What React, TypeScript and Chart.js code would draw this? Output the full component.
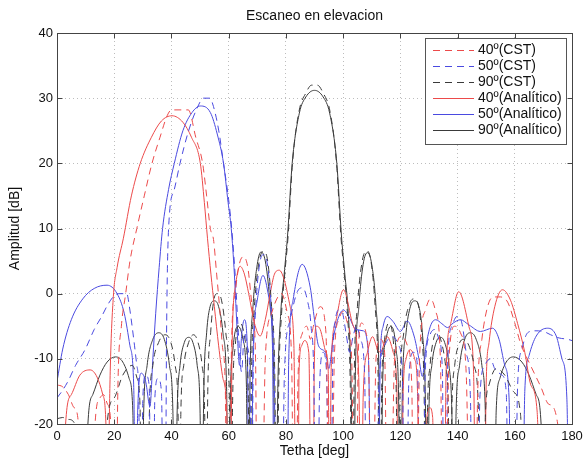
import React, { useEffect, useRef } from "react";
import Chart from "chart.js/auto";

// ---- tick / label definitions ----
const xTicks = [0, 20, 40, 60, 80, 100, 120, 140, 160, 180];
const yTicks = [-20, -10, 0, 10, 20, 30, 40];
const titleText = "Escaneo en elevacion";
const xLabel = "Tetha [deg]";
const yLabel = "Amplitud [dB]";
const legendLabels = ["40º(CST)", "50º(CST)", "90º(CST)", "40º(Analítico)", "50º(Analítico)", "90º(Analítico)"];

// ---- series: [theta deg, amplitude dB]; -40 = null below axis ----
const red40CST: [number, number][] = [
  [0, -14], [2, -14.3], [4, -15.5], [6, -17.5], [7.5, -20], [8, -40],
  [12.5, -40], [13.3, -20], [15, -16], [16.3, -15.5], [17.7, -17], [18.8, -20], [19.3, -40],
  [20.5, -40], [21.3, -14], [22.5, -5], [24, 0], [25.5, 5], [27.9, 10], [30.5, 15], [33.2, 20], [36, 24], [38.5, 27.3], [40, 28.2], [45.9, 28.2], [48.5, 24], [50.9, 20], [52.3, 15], [53.6, 10], [54.7, 8.3], [55.8, 3], [56.8, -2], [57.8, -8], [58.8, -14], [59.5, -40],
  [60.3, -40], [61, -8], [62.2, 0], [63.7, 4.5], [65.2, 5.7], [66.7, 4], [68.2, -2], [69.4, -10], [70, -40],
  [71.5, -40], [72.8, -10], [75, -3], [78.5, 0], [80.5, -3], [82, -10], [82.8, -40],
  [83.3, -40], [84.3, -12], [85.8, -6], [87.3, -5], [88.6, -7], [89.6, -5], [92, -2], [94, -6], [95.3, -40],
  [95.8, -40], [97, -9], [98.5, -4], [100, -2.7], [101.5, -4.5], [103, -10], [104, -40],
  [104.6, -40], [105.3, -9], [106.5, -4.5], [108, -6], [109, -12], [109.6, -40],
  [110.3, -40], [111.5, -10], [113, -7], [114.5, -9], [115.5, -40],
  [116.5, -40], [118, -10], [120.7, -6.5], [122.5, -8], [124, -14], [124.6, -40],
  [125.5, -40], [126.8, -9], [128.8, -2.5], [130.5, -0.8], [132.2, -2.5], [134, -10], [135, -40],
  [135.6, -40], [137, -10], [139, -5], [141, -6], [143, -12], [144.5, -40],
  [146.3, -40], [147, -16], [148.5, -7], [150.5, -2], [152.5, -0.5], [155, -0.5], [157.5, -1.3], [160, -4.5], [162, -7.6], [165.5, -11], [169, -14.2], [172, -17], [175, -20], [175.5, -40],
];

const blue50CST: [number, number][] = [
  [0, -16], [2, -14.8], [3.9, -13.4], [6.5, -11], [9.8, -8.6], [13, -5.5], [15.6, -3.5], [18, -1.5], [20.3, -0.2], [22, 0], [24.4, 0], [25.3, -2], [26.1, -4.5], [27.1, -8], [27.9, -11], [28.6, -16], [29, -40],
  [29.4, -40], [30, -16], [31, -12.5], [32.2, -14], [33, -40],
  [33.5, -40], [34.2, -16], [35.3, -13], [36.5, -15], [37.3, -40],
  [37.8, -40], [38.3, -6], [39, 10], [41, 16], [43, 20], [46, 25], [49, 28.5], [51.2, 30], [53.4, 30], [54.7, 28.7], [56.5, 25.1], [58.2, 20], [60, 14.4], [61.2, 9.3], [62.4, 2], [63.4, -6], [64.5, -12], [65.5, -6], [66.5, -8], [67.5, -14], [68, -40],
  [68.5, -14], [69.5, -2], [70.8, 4.5], [72.2, 6], [73.7, 4], [75, -3], [76, -14], [76.5, -40],
  [78.5, -40], [79.5, -12], [81.5, -4], [84, 0.3], [85.8, 0.9], [87.5, -1], [88.8, -5], [89.8, -14], [90.4, -40],
  [91, -40], [91.8, -14], [93, -9], [94.2, -12], [95, -40],
  [95.7, -40], [96.4, -10], [97.3, -4], [98.4, -2.5], [99.8, -3], [101, -6], [102.3, -9], [103.5, -6.5], [104.8, -5], [106, -7], [107.5, -12], [108.3, -40],
  [111.5, -40], [112.5, -14], [114.5, -8], [117.3, -6.6], [119.5, -8], [120.8, -14], [121.4, -40],
  [122, -40], [123, -13], [124.5, -9], [126, -11], [127, -40],
  [127.8, -40], [128.7, -12], [130.2, -6.5], [132, -5.5], [133.5, -7], [134.7, -12], [135.3, -40],
  [135.8, -40], [136.6, -10], [138, -5], [139.8, -3.5], [141.5, -4.5], [143, -9], [144.5, -16], [145.2, -40],
  [147, -40], [147.8, -16], [149.5, -11], [151.5, -10], [153, -11.5], [155.5, -12.5], [157, -15], [158, -40],
  [160, -40], [161, -14], [162.5, -8.5], [164.5, -6], [167, -5.7], [170, -5.8], [172.5, -6.3], [175.5, -6.8], [178.5, -7], [180, -7.2],
];

const black90CST: [number, number][] = [
  [0, -19.2], [2, -19], [4, -19.3], [6, -19.8], [7, -40],
  [16.5, -40], [17.5, -20], [20, -16], [23, -12.5], [26.3, -11], [28, -13], [29, -17], [29.6, -40],
  [31.5, -40], [32.3, -18], [33.5, -11], [35.5, -7.5], [37.8, -6.3], [39.8, -7.5], [41.3, -11], [42.3, -18], [42.8, -40],
  [43.3, -18], [44.3, -11], [46, -7.5], [47.7, -6.3], [49.3, -7.5], [50.7, -11], [51.6, -18], [52.1, -40],
  [52.7, -15], [53.7, -6], [54.8, -1], [56, 0], [57.5, -1], [59, -6], [60.2, -15], [60.8, -40],
  [61.4, -16], [62.3, -8], [64, -4.5], [65.7, -7], [66.8, -14], [67.4, -40],
  [68, -12], [69, -2], [70.6, 4.8], [72.2, 6.5], [73.7, 4.8], [75, -2], [76.1, -12], [76.8, -40],
  [77.5, -14], [78.5, -3], [79.6, 3], [80.8, 9], [82.3, 20], [84.6, 28], [87, 30.8], [89, 32], [91, 32], [93, 30.8], [95.4, 28], [97.7, 20], [99.2, 9], [100.4, 3], [101.5, -3], [102.5, -14], [103.2, -40],
  [103.9, -12], [105, -2], [106.6, 4.8], [108.2, 6.6], [109.8, 4.8], [111.2, -2], [112.2, -12], [112.9, -40],
  [113.5, -14], [114.5, -7], [116, -4.5], [117.7, -8], [118.6, -16], [119.2, -40],
  [119.9, -15], [121.2, -6], [123.2, -1.6], [124.7, -0.8], [126.2, -1.6], [127.4, -6], [128.3, -15], [128.9, -40],
  [129.5, -18], [130.4, -11], [131.6, -7], [132.8, -6], [134.4, -7.5], [135.8, -11], [136.8, -18], [137.3, -40],
  [138, -18], [139, -11], [140.5, -7.8], [142, -7], [144, -8], [145.8, -11], [147.3, -18], [148, -40],
  [149, -40], [149.7, -19], [151, -14], [153.5, -11.5], [156.5, -12.5], [159.5, -15], [162, -18.5], [163.5, -40],
];

const red40A: [number, number][] = [
  [2.2, -40], [3, -20], [5, -15.5], [8, -12.5], [11.6, -11.7], [14, -12.8], [16, -15.5], [17.1, -20], [17.7, -40],
  [18.1, -25], [18.6, -12], [19.7, -0.4], [21, 4], [23.2, 8.5], [26, 15], [29.1, 20], [33, 24], [36.5, 26.5], [40.2, 27.3], [44, 26.3], [47, 24], [50.1, 20], [51.5, 14], [52.6, 8.5], [53.8, 3], [55, -2], [56.5, -8], [58, -13], [59.3, -18], [60, -40],
  [60.5, -40], [61.2, -8], [62.5, 1.5], [64, 4.2], [65.5, 3], [67, 0], [69, -4.5], [71, -6.5], [72.8, -4], [74.5, 0], [76, 3], [77.7, 3.6], [79.5, 2], [81.5, -2], [82.8, -8], [83.6, -40],
  [84.2, -40], [84.6, -12], [85.5, -8], [86.5, -7.2], [88, -9], [89, -40],
  [89.5, -40], [89.9, -12], [90.6, -5], [92, -5.5], [94, -9], [94.8, -12], [95.3, -40],
  [95.8, -12], [97.3, -4.5], [100.1, 0.6], [103.2, -4.5], [105.4, -12], [106.4, -40],
  [107, -16], [108.5, -9], [110.3, -6.6], [112, -8.5], [113, -9], [115.4, -6.6], [117.5, -9], [118.8, -15], [119.4, -40],
  [120.3, -40], [121, -15], [122, -10], [123.5, -8.6], [125, -10], [126, -15], [126.6, -40],
  [128.5, -40], [129.3, -19], [130.3, -17.5], [131.3, -19], [132, -40],
  [135.3, -40], [136, -12], [137.6, -4.6], [140.4, 0.3], [144, -5.1], [145.6, -12], [146.4, -40],
  [149.3, -40], [150, -14], [151, -7.5], [153, -2], [155.7, 0.6], [158.5, -1], [161, -4.6], [163.5, -9], [165.6, -14], [167.8, -18], [169.1, -40],
];

const blue50A: [number, number][] = [
  [0, -13.5], [2, -8.5], [5, -4], [9, -0.8], [13, 0.8], [17.5, 1.3], [21, 0], [23.5, -3], [25.5, -8], [26.8, -14], [27.6, -40],
  [28.2, -18], [29.5, -12.2], [31, -13.5], [32.5, -17.3],
  [33.5, -10], [34.5, -3], [35.7, 4], [36.9, 10], [39, 16], [41, 20], [44, 25], [47.2, 27.8], [50.1, 28.8], [53.6, 27.8], [56, 24.5], [58.2, 20], [59.8, 14], [60.9, 10], [62, 3], [63, -6], [63.8, -11], [64.6, -6], [65.5, -4], [66.5, -8], [67.2, -40],
  [67.8, -40], [68.5, -10], [70, -1], [72, 2.8], [74, -0.5], [75.3, -8], [76, -40],
  [80.3, -40], [81, -10], [82.5, -1], [85.7, 4.5], [88.5, 1], [90, -4], [91.4, -8], [93.8, -9], [95, -11.5], [96.5, -7], [98.5, -3.5], [100.1, -2.5], [102, -3.5], [104.5, -5.5], [107, -5.7], [108.8, -9], [110, -40],
  [112.2, -40], [113, -10], [114, -5], [115.4, -3.5], [117.5, -4.3], [120, -5.8], [122.4, -4.2], [124.8, -6.5], [126.5, -10], [127.7, -12.7], [129, -8], [130.5, -5], [132.4, -4], [134.5, -4.6], [136.5, -5.2], [138.5, -4.5], [141, -4], [144, -4.8], [148, -5.8], [152.2, -5.3], [154.5, -7], [156.5, -11], [158, -16], [158.8, -40],
  [162.6, -40], [163.5, -15], [165, -9.5], [167.5, -6.5], [171.5, -5.3], [174.5, -6.5], [176.5, -10], [178.2, -16], [179, -40],
];

const black90A: [number, number][] = [
  [10, -40], [10.8, -20], [12.5, -15.5], [15, -12.5], [17.5, -10.5], [20.5, -9.7], [23, -10.5], [25.2, -13], [26.5, -18], [27.2, -40],
  [29.5, -40], [30.3, -18], [31.5, -11], [33.5, -7], [35.6, -6], [37.5, -7], [39.3, -11], [40.5, -18], [41.2, -40],
  [42, -18], [43, -11], [44.5, -7.5], [46, -6.7], [47.5, -7.5], [49, -11], [50, -18], [50.6, -40],
  [51.3, -15], [52.3, -6], [53.5, -2], [55, -1.1], [56.5, -2], [58, -6], [59.3, -15], [60, -40],
  [60.6, -16], [61.5, -8.5], [63.3, -5], [65, -7], [66.2, -14], [66.8, -40],
  [67.5, -12], [68.5, -2], [70, 4.5], [71.3, 6.4], [73, 4.5], [74.5, -2], [75.7, -12], [76.4, -40],
  [77.2, -14], [78.2, -3], [79.4, 3], [80.6, 9], [82.2, 20], [84.7, 27.7], [87, 30.2], [90, 31.2], [93, 30.2], [95.3, 27.7], [97.8, 20], [99.4, 9], [100.6, 3], [101.8, -3], [102.8, -14], [103.6, -40],
  [104.3, -12], [105.5, -2], [107, 4.5], [108.5, 6.3], [110, 4.5], [111.5, -2], [112.5, -12], [113.2, -40],
  [113.8, -14], [115, -7], [116.7, -5], [118.5, -8.5], [119.4, -16], [120, -40],
  [120.7, -15], [122, -6], [123.5, -2], [125, -1.1], [126.5, -2], [127.7, -6], [128.7, -15], [129.4, -40],
  [130, -18], [131, -11], [132.5, -7.5], [134, -6.7], [135.5, -7.5], [137, -11], [138, -18], [138.8, -40],
  [139.5, -18], [140.7, -11], [142.5, -7], [144.4, -6], [146.5, -7], [148.5, -11], [149.7, -18], [150.5, -40],
  [152.8, -40], [153.5, -18], [154.8, -13], [157, -10.5], [159.5, -9.7], [162.5, -10.5], [165, -12.5], [167.5, -15.5], [169.2, -20], [170, -40],
];

const RED = "#ec4a4a";
const BLUE = "#4a4ae0";
const BLACK = "#3a3a3a";
const DASH = [7, 5];

const seriesList = [
  { data: red40CST, color: RED, dashed: true },
  { data: blue50CST, color: BLUE, dashed: true },
  { data: black90CST, color: BLACK, dashed: true },
  { data: red40A, color: RED, dashed: false },
  { data: blue50A, color: BLUE, dashed: false },
  { data: black90A, color: BLACK, dashed: false },
];

const FONT = '"Liberation Sans", Arial, Helvetica, sans-serif';

const framePlugin = {
  id: "matlabFrame",
  afterDraw(chart: any) {
    const { ctx, chartArea, scales } = chart;
    const { left, right, top, bottom } = chartArea;
    const xs = scales.x;
    const ys = scales.y;
    ctx.save();
    ctx.strokeStyle = "#444";
    ctx.lineWidth = 1;
    ctx.setLineDash([]);
    const L = Math.round(left) + 0.5, R = Math.round(right) + 0.5, T = Math.round(top) + 0.5, B = Math.round(bottom) + 0.5;
    ctx.strokeRect(L, T, R - L, B - T);
    ctx.beginPath();
    xTicks.forEach((v) => {
      const p = Math.round(xs.getPixelForValue(v)) + 0.5;
      ctx.moveTo(p, B); ctx.lineTo(p, B - 5);
      ctx.moveTo(p, T); ctx.lineTo(p, T + 5);
    });
    yTicks.forEach((v) => {
      const p = Math.round(ys.getPixelForValue(v)) + 0.5;
      ctx.moveTo(L, p); ctx.lineTo(L + 5, p);
      ctx.moveTo(R, p); ctx.lineTo(R - 5, p);
    });
    ctx.stroke();
    ctx.fillStyle = "#111";
    ctx.font = `14px ${FONT}`;
    ctx.textAlign = "center";
    ctx.textBaseline = "middle";
    ctx.fillText(titleText, (left + right) / 2, 16);
    ctx.fillText(xLabel, (left + right) / 2, 451);
    ctx.save();
    ctx.translate(15, (top + bottom) / 2);
    ctx.rotate(-Math.PI / 2);
    ctx.fillText(yLabel, 0, 0);
    ctx.restore();
    // legend
    const bx = 425, by = 38, bw = 141, bh = 106;
    ctx.fillStyle = "#fff";
    ctx.fillRect(bx, by, bw, bh);
    ctx.strokeStyle = "#555";
    ctx.strokeRect(bx + 0.5, by + 0.5, bw, bh);
    ctx.font = `14px ${FONT}`;
    ctx.textAlign = "left";
    seriesList.forEach((s, i) => {
      const yy = Math.round(50 + i * 16) + 0.5;
      ctx.strokeStyle = s.color;
      ctx.lineWidth = 1;
      ctx.setLineDash(s.dashed ? DASH : []);
      ctx.beginPath();
      ctx.moveTo(433, yy);
      ctx.lineTo(474, yy);
      ctx.stroke();
      ctx.setLineDash([]);
      ctx.fillStyle = "#111";
      ctx.fillText(legendLabels[i], 478, yy);
    });
    ctx.restore();
  },
};

export default function App() {
  const ref = useRef<HTMLCanvasElement | null>(null);
  useEffect(() => {
    if (!ref.current) return;
    const chart = new Chart(ref.current, {
      type: "line",
      data: {
        datasets: seriesList.map((s, i) => ({
          label: legendLabels[i],
          data: s.data.map(([x, y]) => ({ x, y })),
          borderColor: s.color,
          borderWidth: 1,
          borderDash: s.dashed ? DASH : [],
          pointRadius: 0,
          fill: false,
          cubicInterpolationMode: "monotone",
        })),
      },
      options: {
        animation: false,
        responsive: false,
        events: [],
        layout: { padding: { top: 33, right: 12, left: 0, bottom: 0 } },
        plugins: { legend: { display: false }, title: { display: false }, tooltip: { enabled: false } },
        scales: {
          x: {
            type: "linear",
            min: 0,
            max: 180,
            afterFit: (s: any) => { s.height = 38; s.paddingLeft = 0; s.paddingRight = 0; },
            afterBuildTicks: (s: any) => { s.ticks = xTicks.map((v) => ({ value: v })); },
            ticks: { color: "#111", font: { family: FONT, size: 13 }, padding: 5, maxRotation: 0, autoSkip: false },
            grid: { color: "#bdbdbd", lineWidth: 1, drawTicks: false },
            border: { display: false, dash: [1, 3] },
          },
          y: {
            type: "linear",
            min: -20,
            max: 40,
            afterFit: (s: any) => { s.width = 57; s.paddingTop = 0; s.paddingBottom = 0; },
            afterBuildTicks: (s: any) => { s.ticks = yTicks.map((v) => ({ value: v })); },
            ticks: { color: "#111", font: { family: FONT, size: 13 }, padding: 4, autoSkip: false },
            grid: { color: "#bdbdbd", lineWidth: 1, drawTicks: false },
            border: { display: false, dash: [1, 3] },
          },
        },
      },
      plugins: [framePlugin],
    } as any);
    return () => chart.destroy();
  }, []);
  return (
    <div style={{ position: "absolute", left: 0, top: 0, width: 584, height: 462, background: "#fff" }}>
      <canvas ref={ref} width={584} height={462} style={{ display: "block" }} />
    </div>
  );
}
